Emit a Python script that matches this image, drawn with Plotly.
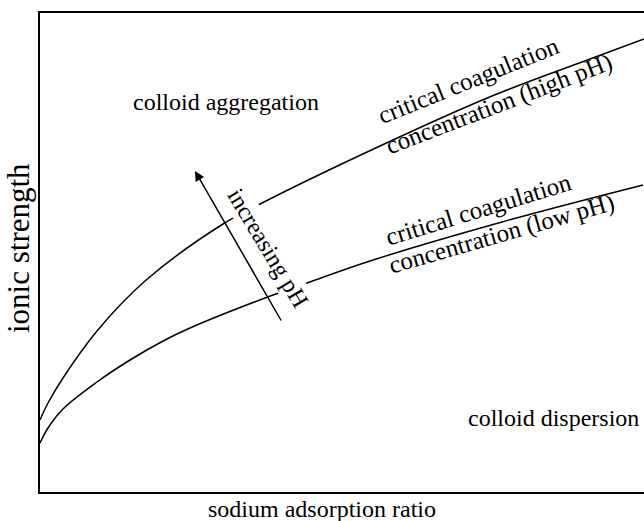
import plotly.graph_objects as go

# Curves (x: sodium adsorption ratio, y: ionic strength), arbitrary units
high_x = [0, 8, 23, 57, 105, 183, 222, 340, 452, 550, 604]
high_y = [72, 89, 114, 161, 211, 268, 289, 346, 396, 433, 453]
low_x = [0, 8, 23, 57, 90, 125, 150, 233, 267, 330, 462, 603]
low_y = [49, 64, 83, 110, 132, 152, 164, 197, 209, 231, 270, 307]

X_RANGE = [0, 604]
Y_RANGE = [0, 479]

FONT = "Liberation Serif, Times New Roman, serif"

fig = go.Figure()
for xs, ys in [(high_x, high_y), (low_x, low_y)]:
    fig.add_trace(go.Scatter(x=xs, y=ys, mode="lines",
                             line=dict(color="black", width=1.5, shape="spline", smoothing=1.0),
                             hoverinfo="skip", showlegend=False))

def label(text, x, y, angle=0, size=24, bg=None):
    fig.add_annotation(x=x, y=y, xref="x", yref="y", text=text, showarrow=False,
                       textangle=angle, font=dict(family=FONT, size=size, color="black"),
                       bgcolor=bg)

label("colloid aggregation", 186, 390)
label("colloid dispersion", 513, 74)
label("critical coagulation", 428, 412, -22, size=25)
label("concentration (high pH)", 459, 388, -21, size=25)
label("critical coagulation", 438, 283, -17, size=25)
label("concentration (low pH)", 461, 258, -16, size=25)

# arrow
fig.add_annotation(x=155, y=321, ax=242, ay=170, xref="x", yref="y", axref="x", ayref="y",
                   text="", showarrow=True, arrowhead=2, arrowsize=1.3, arrowwidth=1.5,
                   arrowcolor="black")
label("increasing pH", 228, 244, 59, bg="white")

# axis titles
fig.add_annotation(x=(322 - 40) / 604, y=0, xref="paper", yref="paper", yshift=-17,
                   text="sodium adsorption ratio", showarrow=False, yanchor="middle",
                   xanchor="center", font=dict(family=FONT, size=24, color="black"))
fig.add_annotation(x=0, y=(492 - 248) / 479, xref="paper", yref="paper", xshift=-21,
                   text="ionic strength", showarrow=False, textangle=-90,
                   xanchor="center", yanchor="middle",
                   font=dict(family=FONT, size=31, color="black"))

fig.update_layout(
    width=644, height=521,
    margin=dict(l=40, r=0, t=13, b=29),
    paper_bgcolor="white", plot_bgcolor="white",
    xaxis=dict(range=X_RANGE, showgrid=False, zeroline=False, showticklabels=False,
               ticks="", showline=True, linecolor="black", linewidth=1.5, mirror=True),
    yaxis=dict(range=Y_RANGE, showgrid=False, zeroline=False, showticklabels=False,
               ticks="", showline=True, linecolor="black", linewidth=1.5, mirror=False),
)

fig.write_html("out.html", config={"displayModeBar": False},
               post_script="document.body.style.margin='0';")
